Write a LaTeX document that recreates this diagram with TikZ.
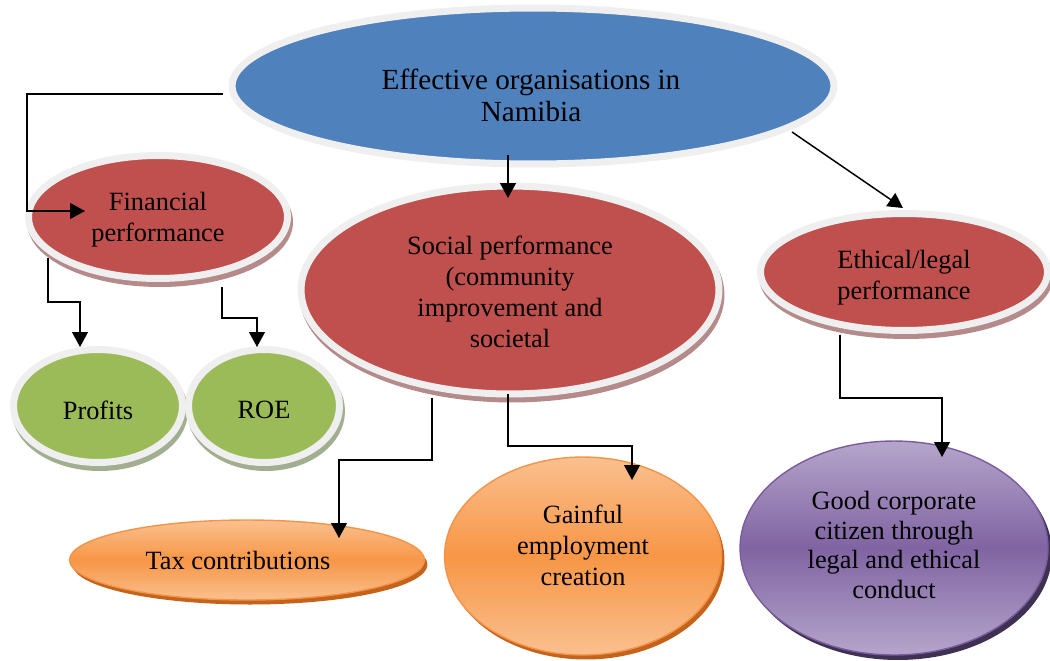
\documentclass[tikz,border=0pt]{standalone}
\usepackage{fontspec}
\setmainfont{Liberation Serif}
\usetikzlibrary{shapes.geometric,shadows,arrows.meta,calc}

\definecolor{rimgray}{HTML}{EFEFEF}
\definecolor{topblue}{HTML}{4F81BD}
\definecolor{perfred}{HTML}{C0504D}
\definecolor{redshade}{HTML}{B48A8A}
\definecolor{leafgreen}{HTML}{9BBB59}
\definecolor{greenshade}{HTML}{A2AE90}
\definecolor{orangemid}{HTML}{F79646}
\definecolor{orangelight}{HTML}{FAC08F}
\definecolor{orangeedge}{HTML}{F39449}
\definecolor{orangeshade}{HTML}{C4631C}
\definecolor{purplemid}{HTML}{8064A2}
\definecolor{purplelight}{HTML}{B5A5CB}
\definecolor{purpleedge}{HTML}{7A5C9E}
\definecolor{purpleshade}{HTML}{3E3152}

\begin{document}
\begin{tikzpicture}[x=0.02cm,y=-0.02cm,
  bubble/.style={ellipse, inner sep=0pt, align=center},
  words/.style={align=center, font=\fontsize{15}{17.6}\selectfont},
  rimmed/.style={bubble, draw=rimgray, line width=0.14cm},
  rimshadow/.style={drop shadow={shadow xshift=0.04cm, shadow yshift=-0.1cm,
    fill=#1, draw=#1, line width=0.14cm, opacity=1}},
  orangefill/.style={bubble, draw=orangeedge, line width=0.8pt,
    top color=orangelight, bottom color=orangelight, middle color=orangemid,
    drop shadow={shadow xshift=0.06cm, shadow yshift=-0.09cm,
      fill=orangeshade, opacity=1}},
  purplefill/.style={bubble, draw=purpleedge, line width=0.8pt,
    top color=purplelight, bottom color=purplelight, middle color=purplemid,
    drop shadow={shadow xshift=0.08cm, shadow yshift=-0.1cm,
      fill=purpleshade, opacity=1}},
  link/.style={draw=black, line width=0.85pt,
    -{Triangle[length=8.5pt,width=9pt]}}
]
\useasboundingbox (0,0) rectangle (1050,660);

% top level
\node[rimmed, fill=topblue, minimum width=12.04cm, minimum height=3.12cm]
  (top) at (533,86) {};
\node[align=center, font=\fontsize{16.6}{18.2}\selectfont]
  (toptext) at (531,95) {Effective organisations in\\Namibia};

% performance areas
\node[rimmed, fill=perfred, rimshadow=redshade, minimum width=5.18cm, minimum height=2.46cm]
  (fin) at (158,217) {};
\node[words] (fintext) at (158,220) {Financial\\performance};
\node[rimmed, fill=perfred, rimshadow=redshade, minimum width=8.36cm, minimum height=4.16cm]
  (social) at (510,290) {};
\node[words] (socialtext) at (510,292) {Social performance\\(community\\improvement and\\societal};
\node[rimmed, fill=perfred, rimshadow=redshade, minimum width=5.74cm, minimum height=2.34cm]
  (ethical) at (904,272) {};
\node[words] (ethicaltext) at (904,278) {Ethical/legal\\performance};

% financial outcomes
\node[rimmed, fill=leafgreen, rimshadow=greenshade, minimum width=3.38cm, minimum height=2.26cm]
  (prof) at (98,406) {};
\node[words] (proftext) at (98,410) {Profits};
\node[rimmed, fill=leafgreen, rimshadow=greenshade, minimum width=3.02cm, minimum height=2.26cm]
  (roe) at (264,406) {};
\node[words] (roetext) at (264,410) {ROE};

% social outcomes
\node[orangefill, minimum width=7.1cm, minimum height=1.6cm]
  (tax) at (247,560) {};
\node[words] (taxtext) at (238,560) {Tax contributions};
\node[orangefill, minimum width=5.54cm, minimum height=3.96cm]
  (gain) at (583,556) {};
\node[words] (gaintext) at (583,545) {Gainful\\employment\\creation};

% ethical outcome
\node[purplefill, minimum width=6.16cm, minimum height=4.28cm]
  (good) at (894,548) {};
\node[words, font=\fontsize{15}{17}\selectfont] (goodtext) at (894,545)
  {Good corporate\\citizen through\\legal and ethical\\conduct};

% connectors
\draw[link] ($(top.center)+(-310,8)$) -| ($(fin.center)+(-131,-6)$)
  -- ($(fin.center)+(-73,-6)$);
\draw[link] ($(top.center)+(-25,69)$) -- ($(social.center)+(-2,-92)$);
\draw[link] ($(top.center)+(259,46)$) -- ($(ethical.center)+(-1,-64)$);

\draw[link] ($(fin.center)+(-110,41)$) -- ++(0,44) -| ($(prof.center)+(-18,-59)$);
\draw[link] ($(fin.center)+(64,70)$) -- ++(0,31) -| ($(roe.center)+(-7,-59)$);

\draw[link] ($(social.center)+(-78,108)$) -- ++(0,62) -| ($(tax.center)+(92,-22)$);
\draw[link] ($(social.center)+(-2,104)$) -- ++(0,52) -| ($(gain.center)+(49,-76)$);

\draw[link] ($(ethical.center)+(-64,63)$) -- ++(0,63) -| ($(good.center)+(48,-91)$);
\end{tikzpicture}
\end{document}
